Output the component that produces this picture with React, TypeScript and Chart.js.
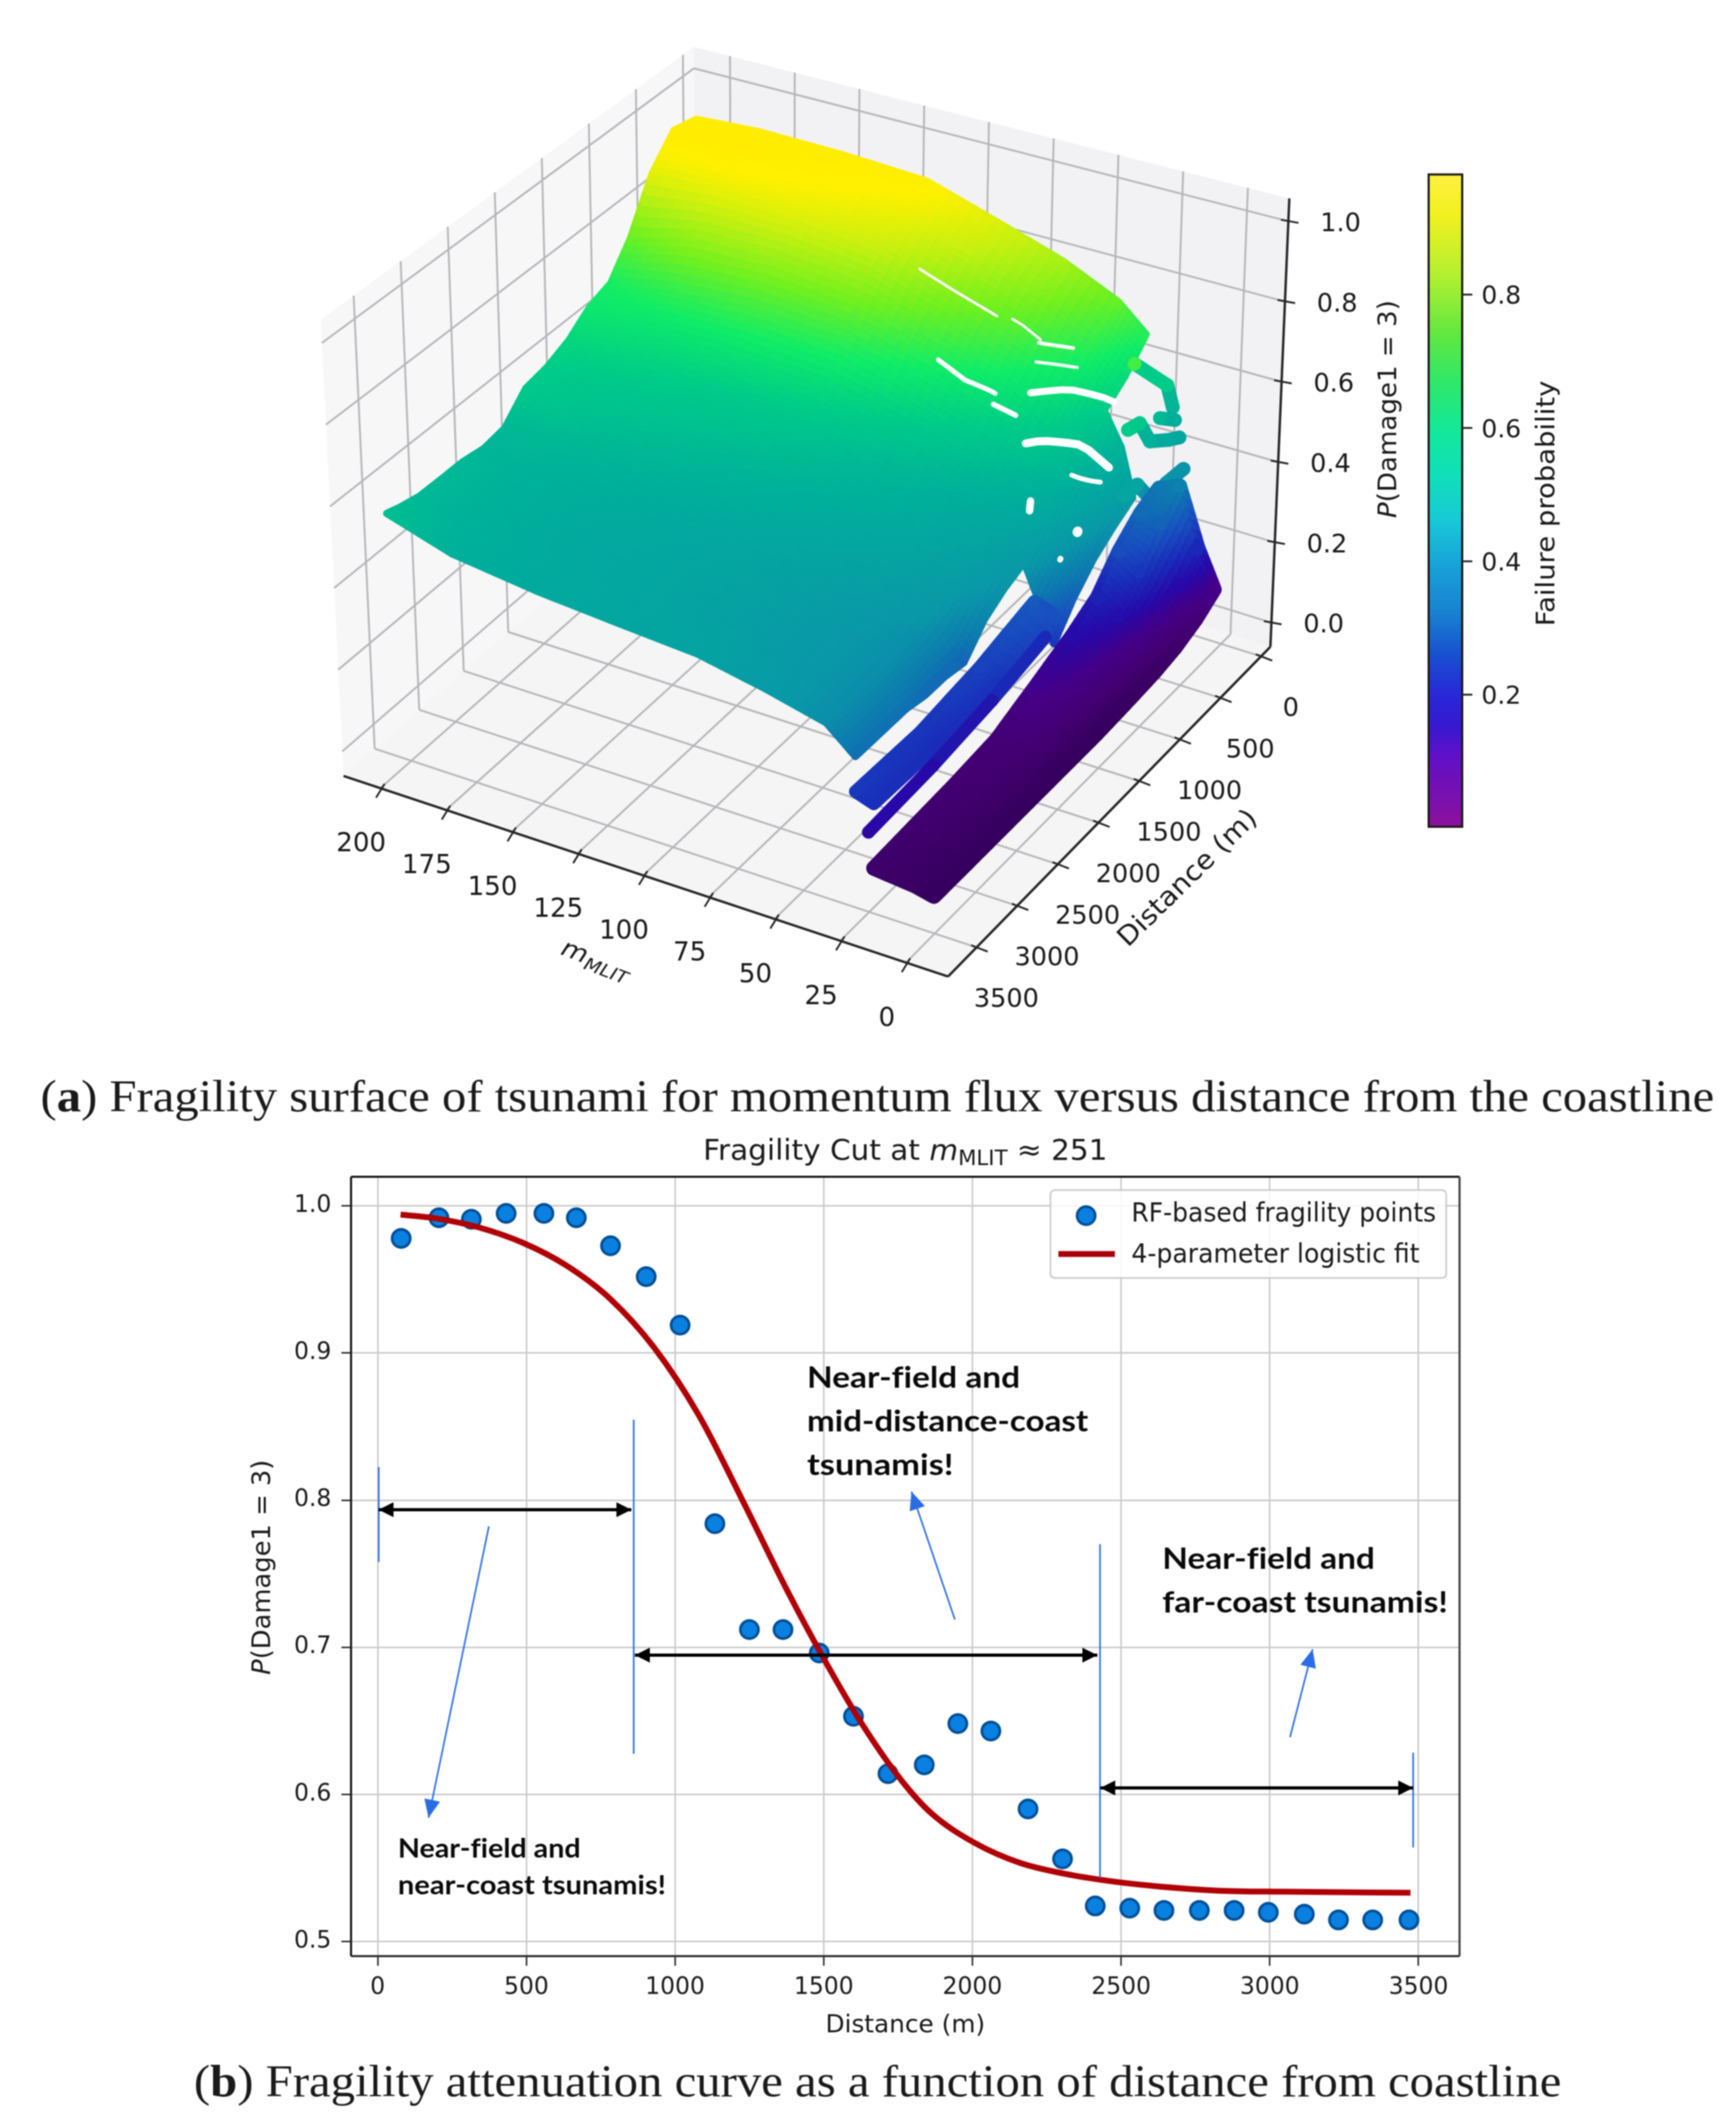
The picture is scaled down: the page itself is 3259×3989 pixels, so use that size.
import React, { useEffect, useRef } from "react";
import { Chart, registerables } from "chart.js";

Chart.register(...registerables);

const PAGE_W = 3259;
const PAGE_H = 3989;
const SANS = '"DejaVu Sans"';

// ---------- panel (b) data ----------
const rfDistance = [79, 206, 315, 432, 559, 668, 783, 903, 1017, 1134, 1250, 1363, 1485, 1600, 1716, 1838, 1951, 2062, 2187, 2303, 2413, 2529, 2644, 2763, 2880, 2995, 3116, 3231, 3346, 3468];
const rfProbability = [0.978, 0.992, 0.991, 0.995, 0.995, 0.992, 0.973, 0.952, 0.919, 0.784, 0.712, 0.712, 0.696, 0.653, 0.614, 0.62, 0.648, 0.643, 0.59, 0.556, 0.524, 0.5225, 0.521, 0.521, 0.521, 0.5197, 0.5184, 0.5145, 0.5145, 0.5145];
const fitDistance = [77, 190, 338, 486, 634, 783, 931, 1080, 1228, 1377, 1498, 1625, 1759, 1862, 2011, 2160, 2308, 2456, 2604, 2828, 3050, 3473];
const fitProbability = [0.9942, 0.9918, 0.9856, 0.9752, 0.9596, 0.9367, 0.9034, 0.8577, 0.7994, 0.7386, 0.693, 0.649, 0.61, 0.587, 0.5665, 0.5533, 0.546, 0.5411, 0.5377, 0.5344, 0.5337, 0.533];
const cutXTicks = [0, 500, 1000, 1500, 2000, 2500, 3000, 3500];
const cutYTicks = [0.5, 0.6, 0.7, 0.8, 0.9, 1.0];
const rangeMarkers = [
  [3.6, 0.8225, 0.758],
  [861, 0.8547, 0.6275],
  [2429, 0.77, 0.5431],
  [3482, 0.6283, 0.5638],
];
const rangeArrows = [
  [3, 853, 0.7935],
  [865, 2420, 0.6946],
  [2430, 3482, 0.6043],
];
const noteArrows = [
  [374, 0.7822, 171, 0.584],
  [1941, 0.7188, 1795, 0.8058],
  [3068, 0.6388, 3144, 0.6986],
];

// ---------- panel (a) data ----------
const mTicks = [0, 25, 50, 75, 100, 125, 150, 175, 200];
const dTicks = [0, 500, 1000, 1500, 2000, 2500, 3000, 3500];
const zTicks = [0, 0.2, 0.4, 0.6, 0.8, 1.0];
const colorbarTicks = [0.2, 0.4, 0.6, 0.8];

const mainM = [19, 24, 31, 42, 64, 90, 117, 150, 182, 206];
const mainD = [80, 320, 560, 800, 1020, 1250, 1480, 1720, 1950, 2190, 2420, 2650, 2880, 3120, 3350, 3480];
const mainP = [
  [null, null, 0.673, 0.735, 0.8, 0.855, 0.911, 0.922, 0.925, 0.915],
  [null, null, 0.613, 0.69, 0.765, 0.828, 0.872, 0.905, 0.925, 0.93],
  [0.38, 0.495, 0.574, 0.64, 0.716, 0.77, 0.833, 0.864, 0.87, 0.86],
  [0.35, 0.455, 0.534, 0.591, 0.657, 0.711, 0.765, 0.787, 0.781, 0.737],
  [0.317, 0.396, 0.494, 0.542, 0.598, 0.643, 0.688, 0.701, 0.686, 0.661],
  [0.267, 0.326, 0.435, 0.483, 0.529, 0.574, 0.61, 0.624, 0.628, 0.642],
  [0.2, 0.277, 0.376, 0.434, 0.48, 0.516, 0.552, 0.566, 0.59, 0.6],
  [null, null, 0.356, 0.404, 0.451, 0.487, 0.514, 0.541, 0.553, 0.576],
  [null, null, 0.326, 0.384, 0.421, 0.457, 0.484, 0.508, 0.533, 0.566],
  [null, null, 0.268, 0.364, 0.402, 0.428, 0.455, 0.479, 0.504, 0.509],
  [null, null, 0.277, 0.345, 0.382, 0.408, 0.435, 0.46, 0.485, 0.5],
  [null, null, 0.277, 0.345, 0.373, 0.408, 0.426, 0.451, 0.476, 0.509],
  [null, null, 0.287, 0.345, 0.373, 0.399, 0.426, 0.442, 0.476, 0.509],
  [null, null, 0.287, 0.345, 0.372, 0.405, 0.425, 0.447, 0.475, 0.51],
  [null, null, 0.287, 0.345, 0.38, 0.415, 0.43, 0.45, 0.477, 0.522],
  [null, null, 0.287, 0.345, 0.38, 0.415, 0.43, 0.45, 0.48, 0.532],
];
const lowM = [1, 8, 16, 24];
const lowD = [80, 300, 550, 800, 1100, 1500, 2000, 2500, 3000, 3480];
const lowP = [
  [0.09, 0.18, 0.32, 0.3],
  [0.06, 0.13, 0.27, 0.28],
  [0.04, 0.1, 0.2, 0.235],
  [0.03, 0.08, 0.14, 0.17],
  [0.025, 0.06, 0.11, 0.135],
  [0.02, 0.05, 0.085, 0.1],
  [0.02, 0.04, 0.055, 0.06],
  [0.02, 0.035, 0.045, 0.05],
  [0.02, 0.03, 0.04, 0.045],
  [0.02, 0.03, 0.035, 0.04],
];
const bandM = [24, 31];
const bandD = [1350, 2000, 2700, 3480];
const bandP = [
  [0.24, 0.255],
  [0.195, 0.22],
  [0.185, 0.2],
  [0.19, 0.205],
];
const stripLines = [
  { m: 26, d: [1364, 2000, 2700, 3480], p: [0.18, 0.15, 0.13, 0.12], w: 24 },
  { m: 16, d: [40, 242, 420, 600, 757], p: [0.355, 0.36, 0.35, 0.425, 0.425], w: 26 },
  { m: 18, d: [40, 175, 400, 530, 670], p: [0.43, 0.45, 0.49, 0.56, 0.57], w: 26 },
  { m: 20, d: [40, 222], p: [0.47, 0.51], w: 26 },
  { m: 21, d: [40, 115, 520], p: [0.5, 0.57, 0.7], w: 26 },
];
// stretches where the surface has no points: m from, D from, m to, D to, breadth
const surfaceGaps = [
  [103, 560, 73, 560, 5],
  [68, 530, 57, 530, 5],
  [57, 550, 47, 450, 7],
  [84, 900, 73, 920, 9],
  [73, 920, 62, 900, 9],
  [55, 640, 43, 520, 6],
  [52, 790, 30, 470, 13],
  [61, 950, 53, 930, 10],
  [46, 1020, 24, 700, 15],
  [30, 960, 24, 800, 9],
  [37, 1230, 36, 1270, 14],
  [24, 1060, 24, 1065, 18],
  [25, 1230, 25, 1235, 11],
];

const surfaceStopValues = [0.02, 0.05, 0.09, 0.13, 0.18, 0.24, 0.3, 0.365, 0.48, 0.575, 0.655, 0.745, 0.83, 0.895, 0.96];
const surfaceStopColors = ["#36005e", "#420070", "#450088", "#2808a8", "#1a28b8", "#1850c0", "#0e78b0", "#0a98a8", "#00b09a", "#00cc88", "#10ec68", "#70f020", "#c8f010", "#fff000", "#ffe800"];
const barStopValues = [0.002, 0.05, 0.11, 0.15, 0.2, 0.26, 0.32, 0.39, 0.46, 0.53, 0.6, 0.67, 0.74, 0.83, 0.92, 0.98];
const barStopColors = ["#8c109c", "#7810b0", "#6010c8", "#3818d0", "#2828d8", "#1850d0", "#1880d0", "#18a0d8", "#18c8d8", "#10e0b8", "#14e898", "#30e868", "#60e840", "#b4f030", "#f2f020", "#fff040"];

// ---------- 3D box: corners of the floor and of the z = 1 plane ----------
const M_MIN = -16, M_MAX = 214, D_MIN = -115, D_MAX = 3850, Z_MIN = -0.06, Z_ONE = 1.0, Z_MAX = 1.057;
const FLOOR = { c: [2391, 1209], e: [1305, 870], b: [637, 1453], a: [1781, 1832] };
const ROOF = { c: [2425, 405], e: [1300, 116], b: [596, 635], a: [1790, 955] };

function quadAt(q: any, u: number, v: number) {
  const x = (1 - u) * (1 - v) * q.c[0] + u * (1 - v) * q.e[0] + u * v * q.b[0] + (1 - u) * v * q.a[0];
  const y = (1 - u) * (1 - v) * q.c[1] + u * (1 - v) * q.e[1] + u * v * q.b[1] + (1 - u) * v * q.a[1];
  return [x, y];
}
function project(m: number, d: number, z: number) {
  const u = (m - M_MIN) / (M_MAX - M_MIN);
  const v = (d - D_MIN) / (D_MAX - D_MIN);
  const w = (z - Z_MIN) / (Z_ONE - Z_MIN);
  const f = quadAt(FLOOR, u, v);
  const r = quadAt(ROOF, u, v);
  return { x: f[0] + (r[0] - f[0]) * w, y: f[1] + (r[1] - f[1]) * w };
}

function hex(c: string) {
  return [parseInt(c.slice(1, 3), 16), parseInt(c.slice(3, 5), 16), parseInt(c.slice(5, 7), 16)];
}
function ramp(values: number[], colors: string[], p: number) {
  if (p <= values[0]) return colors[0];
  for (let i = 1; i < values.length; i++) {
    if (p <= values[i]) {
      const t = (p - values[i - 1]) / (values[i] - values[i - 1]);
      const a = hex(colors[i - 1]);
      const b = hex(colors[i]);
      return `rgb(${Math.round(a[0] + (b[0] - a[0]) * t)},${Math.round(a[1] + (b[1] - a[1]) * t)},${Math.round(a[2] + (b[2] - a[2]) * t)})`;
    }
  }
  return colors[colors.length - 1];
}
const surfaceColor = (p: number) => ramp(surfaceStopValues, surfaceStopColors, p);

function tablePoints(ms: number[], ds: number[], table: (number | null)[][]) {
  const pts: any[] = [];
  ds.forEach((d, j) =>
    ms.forEach((m, i) => {
      const p = table[j][i];
      if (p !== null) pts.push({ ...project(m, d, p), p });
    })
  );
  return pts;
}

function shadePatch(chart: any, ms: number[], ds: number[], table: (number | null)[][], spread: number) {
  const ctx = chart.ctx;
  const sx = chart.scales.x, sy = chart.scales.y;
  const N = 6;
  ctx.save();
  ctx.lineJoin = "round";
  for (let pass = 0; pass < 2; pass++) {
    ctx.lineWidth = pass === 0 ? spread * 2 : 1.5;
    for (let j = 0; j < ds.length - 1; j++) {
      for (let i = ms.length - 2; i >= 0; i--) {
        const p00 = table[j][i], p10 = table[j][i + 1], p01 = table[j + 1][i], p11 = table[j + 1][i + 1];
        if (p00 === null || p10 === null || p01 === null || p11 === null) continue;
        for (let b = 0; b < N; b++) {
          for (let a = N - 1; a >= 0; a--) {
            const corner = (s: number, t: number) => {
              const p = (1 - s) * (1 - t) * p00 + s * (1 - t) * p10 + (1 - s) * t * p01 + s * t * p11;
              const q = project(ms[i] + (ms[i + 1] - ms[i]) * s, ds[j] + (ds[j + 1] - ds[j]) * t, p);
              return { x: sx.getPixelForValue(q.x), y: sy.getPixelForValue(q.y), p };
            };
            const c = [corner(a / N, b / N), corner((a + 1) / N, b / N), corner((a + 1) / N, (b + 1) / N), corner(a / N, (b + 1) / N)];
            const col = surfaceColor((c[0].p + c[1].p + c[2].p + c[3].p) / 4);
            ctx.fillStyle = col;
            ctx.strokeStyle = col;
            ctx.beginPath();
            ctx.moveTo(c[0].x, c[0].y);
            for (let k = 1; k < 4; k++) ctx.lineTo(c[k].x, c[k].y);
            ctx.closePath();
            if (pass === 1) ctx.fill();
            ctx.stroke();
          }
        }
      }
    }
  }
  ctx.restore();
}

function sampleMain(m: number, d: number) {
  let j = 0;
  while (j < mainD.length - 2 && d > mainD[j + 1]) j++;
  let i = 0;
  while (i < mainM.length - 2 && m > mainM[i + 1]) i++;
  const t = Math.min(1, Math.max(0, (d - mainD[j]) / (mainD[j + 1] - mainD[j])));
  const s = Math.min(1, Math.max(0, (m - mainM[i]) / (mainM[i + 1] - mainM[i])));
  const vals = [[mainP[j][i], (1 - s) * (1 - t)], [mainP[j][i + 1], s * (1 - t)], [mainP[j + 1][i], (1 - s) * t], [mainP[j + 1][i + 1], s * t]] as [number | null, number][];
  let sum = 0, wt = 0;
  vals.forEach(([p, w]) => {
    if (p !== null) {
      sum += p * w;
      wt += w;
    }
  });
  return wt > 0 ? sum / wt : 0.5;
}

type Run = { t: string; italic?: boolean; bold?: boolean; scale?: number; dy?: number };
function drawRuns(ctx: any, runs: Run[], family: string, size: number, x: number, y: number, width: number | null, opts: any = {}) {
  const { rotate = 0, center = false, color = "#1a1a1a", middle = false, plainLetters = false } = opts;
  const fontOf = (r: Run) => `${r.italic ? "italic " : ""}${r.bold ? "bold " : ""}${size * (r.scale || 1)}px ${family}`;
  ctx.save();
  ctx.letterSpacing = plainLetters ? "0.02px" : "0px";
  let natural = 0;
  runs.forEach((r) => {
    ctx.font = fontOf(r);
    natural += ctx.measureText(r.t).width;
  });
  const sx = width ? width / natural : 1;
  ctx.translate(x, y);
  ctx.rotate(rotate);
  ctx.scale(sx, 1);
  ctx.fillStyle = color;
  ctx.textBaseline = middle ? "middle" : "alphabetic";
  ctx.textAlign = "left";
  let cursor = center ? -natural / 2 : 0;
  runs.forEach((r) => {
    ctx.font = fontOf(r);
    ctx.fillText(r.t, cursor, r.dy || 0);
    cursor += ctx.measureText(r.t).width;
  });
  ctx.restore();
}

function centered(ctx: any, text: string, x: number, y: number, size: number) {
  ctx.font = `${size}px ${SANS}`;
  ctx.fillStyle = "#1a1a1a";
  ctx.textAlign = "center";
  ctx.textBaseline = "middle";
  ctx.fillText(text, x, y);
}

function segment(ctx: any, a: any, b: any, color: string, width: number) {
  ctx.strokeStyle = color;
  ctx.lineWidth = width;
  ctx.beginPath();
  ctx.moveTo(a.x, a.y);
  ctx.lineTo(b.x, b.y);
  ctx.stroke();
}

const boxPlugin = {
  id: "box3d",
  beforeDatasetsDraw(chart: any) {
    const ctx = chart.ctx;
    const sx = chart.scales.x, sy = chart.scales.y;
    const at = (m: number, d: number, z: number) => {
      const q = project(m, d, z);
      return { x: sx.getPixelForValue(q.x), y: sy.getPixelForValue(q.y) };
    };
    const pane = (pts: any[], color: string) => {
      ctx.fillStyle = color;
      ctx.beginPath();
      pts.forEach((p, i) => (i ? ctx.lineTo(p.x, p.y) : ctx.moveTo(p.x, p.y)));
      ctx.closePath();
      ctx.fill();
    };
    pane([at(M_MAX, D_MAX, Z_MIN), at(M_MAX, D_MIN, Z_MIN), at(M_MAX, D_MIN, Z_MAX), at(M_MAX, D_MAX, Z_MAX)], "#f7f7f8");
    pane([at(M_MAX, D_MIN, Z_MIN), at(M_MIN, D_MIN, Z_MIN), at(M_MIN, D_MIN, Z_MAX), at(M_MAX, D_MIN, Z_MAX)], "#f2f2f4");
    pane([at(M_MIN, D_MAX, Z_MIN), at(M_MAX, D_MAX, Z_MIN), at(M_MAX, D_MIN, Z_MIN), at(M_MIN, D_MIN, Z_MIN)], "#f5f5f5");
    const GRID = "#b6b6ba";
    ctx.lineCap = "butt";
    mTicks.forEach((m) => {
      segment(ctx, at(m, D_MAX, Z_MIN), at(m, D_MIN, Z_MIN), GRID, 3.5);
      segment(ctx, at(m, D_MIN, Z_MIN), at(m, D_MIN, Z_MAX), GRID, 3.5);
    });
    dTicks.forEach((d) => {
      segment(ctx, at(M_MIN, d, Z_MIN), at(M_MAX, d, Z_MIN), GRID, 3.5);
      segment(ctx, at(M_MAX, d, Z_MIN), at(M_MAX, d, Z_MAX), GRID, 3.5);
    });
    zTicks.forEach((z) => {
      segment(ctx, at(M_MAX, D_MAX, z), at(M_MAX, D_MIN, z), GRID, 3.5);
      segment(ctx, at(M_MAX, D_MIN, z), at(M_MIN, D_MIN, z), GRID, 3.5);
    });
    const AX = "#262626";
    segment(ctx, at(M_MIN, D_MAX, Z_MIN), at(M_MAX, D_MAX, Z_MIN), AX, 4.5);
    segment(ctx, at(M_MIN, D_MAX, Z_MIN), at(M_MIN, D_MIN, Z_MIN), AX, 4.5);
    segment(ctx, at(M_MIN, D_MIN, Z_MIN), at(M_MIN, D_MIN, Z_MAX), AX, 4.5);
  },
  beforeDatasetDraw(chart: any, args: any) {
    const patch = chart.data.datasets[args.index].patch;
    if (patch) shadePatch(chart, patch.ms, patch.ds, patch.table, patch.spread);
  },
  afterDatasetDraw(chart: any, args: any) {
    if (!chart.data.datasets[args.index].isMain) return;
    const ctx = chart.ctx;
    const sx = chart.scales.x, sy = chart.scales.y;
    ctx.save();
    ctx.strokeStyle = "#ffffff";
    ctx.lineCap = "round";
    ctx.lineJoin = "round";
    surfaceGaps.forEach(([m1, d1, m2, d2, w]) => {
      ctx.lineWidth = w;
      ctx.beginPath();
      for (let k = 0; k <= 8; k++) {
        const m = m1 + ((m2 - m1) * k) / 8;
        const d = d1 + ((d2 - d1) * k) / 8;
        const q = project(m, d, sampleMain(m, d));
        const px = sx.getPixelForValue(q.x), py = sy.getPixelForValue(q.y);
        if (k) ctx.lineTo(px, py);
        else ctx.moveTo(px, py);
      }
      ctx.stroke();
    });
    ctx.restore();
  },
  afterDraw(chart: any) {
    const ctx = chart.ctx;
    const sx = chart.scales.x, sy = chart.scales.y;
    const at = (m: number, d: number, z: number) => {
      const q = project(m, d, z);
      return { x: sx.getPixelForValue(q.x), y: sy.getPixelForValue(q.y) };
    };
    const AX = "#262626";
    ctx.lineCap = "butt";
    mTicks.forEach((m) => {
      const p = at(m, D_MAX, Z_MIN);
      segment(ctx, { x: p.x + 8, y: p.y - 8 }, { x: p.x - 8, y: p.y + 18 }, AX, 3.5);
      centered(ctx, String(m), p.x - 36, p.y + 106, 49);
    });
    dTicks.forEach((d) => {
      const p = at(M_MIN, d, Z_MIN);
      segment(ctx, { x: p.x - 10, y: p.y - 4 }, { x: p.x + 21, y: p.y + 8 }, AX, 3.5);
      centered(ctx, String(d), p.x + 56, p.y + 99, 48);
    });
    zTicks.forEach((z) => {
      const p = at(M_MIN, D_MIN, z);
      segment(ctx, { x: p.x - 14, y: p.y - 3 }, { x: p.x + 19, y: p.y + 3 }, AX, 3.5);
      centered(ctx, z.toFixed(1), p.x + 98, p.y + 6, 48);
    });
    drawRuns(ctx, [{ t: "m", italic: true }, { t: "MLIT", italic: true, scale: 0.72, dy: 10 }], SANS, 46, 1114, 1815, 136, { rotate: (21 * Math.PI) / 180, center: true });
    drawRuns(ctx, [{ t: "Distance (m)" }], SANS, 50, 2231, 1650, 344, { rotate: (-44.4 * Math.PI) / 180, center: true, middle: true });
    drawRuns(ctx, [{ t: "P", italic: true }, { t: "(Damage1 = 3)" }], SANS, 48, 2609, 768, 409, { rotate: -Math.PI / 2, center: true, middle: true });

    // colour bar
    const L = 2682, R = 2745, T = 327.5, B = 1552;
    const yOf = (p: number) => 553 + ((0.8 - p) * (1304 - 553)) / 0.6;
    const grad = ctx.createLinearGradient(0, B, 0, T);
    barStopValues.forEach((v, i) => grad.addColorStop((yOf(0.002) - yOf(v)) / (yOf(0.002) - yOf(0.98)), barStopColors[i]));
    ctx.fillStyle = grad;
    ctx.fillRect(L, T, R - L, B - T);
    ctx.strokeStyle = "#1a1a1a";
    ctx.lineWidth = 4;
    ctx.strokeRect(L, T, R - L, B - T);
    colorbarTicks.forEach((v) => {
      segment(ctx, { x: R, y: yOf(v) }, { x: R + 19, y: yOf(v) }, AX, 3.5);
      ctx.font = `47px ${SANS}`;
      ctx.fillStyle = "#1a1a1a";
      ctx.textAlign = "left";
      ctx.textBaseline = "middle";
      ctx.fillText(v.toFixed(1), 2781, yOf(v) + 5);
    });
    drawRuns(ctx, [{ t: "Failure probability" }], SANS, 48, 2906, 945, 461, { rotate: -Math.PI / 2, center: true, middle: true });

    drawRuns(ctx, [{ t: "(" }, { t: "a", bold: true }, { t: ") Fragility surface of tsunami for momentum flux versus distance from the coastline" }], '"Liberation Serif"', 84, 76, 2086, 3142);
  },
};

function arrowHead(ctx: any, from: any, to: any, len: number, half: number, color: string) {
  const a = Math.atan2(to.y - from.y, to.x - from.x);
  ctx.fillStyle = color;
  ctx.beginPath();
  ctx.moveTo(to.x, to.y);
  ctx.lineTo(to.x - len * Math.cos(a) - half * Math.sin(a), to.y - len * Math.sin(a) + half * Math.cos(a));
  ctx.lineTo(to.x - len * Math.cos(a) + half * Math.sin(a), to.y - len * Math.sin(a) - half * Math.cos(a));
  ctx.closePath();
  ctx.fill();
}

const cutPlugin = {
  id: "cutNotes",
  afterDatasetsDraw(chart: any) {
    const ctx = chart.ctx;
    const x = chart.scales.x, y = chart.scales.y;
    const at = (d: number, p: number) => ({ x: x.getPixelForValue(d), y: y.getPixelForValue(p) });
    const BLUE = "#2a6ce6";
    rangeMarkers.forEach(([d, p1, p2]) => segment(ctx, at(d, p1), at(d, p2), BLUE, 3));
    rangeArrows.forEach(([d1, d2, p]) => {
      const a = at(d1, p), b = at(d2, p);
      segment(ctx, a, b, "#000000", 6);
      arrowHead(ctx, b, a, 28, 14, "#000000");
      arrowHead(ctx, a, b, 28, 14, "#000000");
    });
    noteArrows.forEach(([d1, p1, d2, p2]) => {
      const a = at(d1, p1), b = at(d2, p2);
      segment(ctx, a, b, BLUE, 3);
      arrowHead(ctx, a, b, 34, 15, BLUE);
    });
    const note = (t: string, px: number, py: number, w: number, size: number) =>
      drawRuns(ctx, [{ t, bold: true }], "Lato", size, px, py, w, { color: "#0a0a0a", plainLetters: true });
    note("Near-field and", 1515, 2605, 400, 56);
    note("mid-distance-coast", 1515, 2687, 528, 56);
    note("tsunamis!", 1515, 2769, 275, 56);
    note("Near-field and", 2182, 2945, 399, 56);
    note("far-coast tsunamis!", 2182, 3027, 536, 56);
    note("Near-field and", 747, 3487, 343, 49);
    note("near-coast tsunamis!", 747, 3556, 503, 49);

    // frame
    const { left, right, top, bottom } = chart.chartArea;
    segment(ctx, { x: left, y: top }, { x: right, y: top }, "#1a1a1a", 4);
    segment(ctx, { x: right, y: top }, { x: right, y: bottom }, "#444444", 4);
    segment(ctx, { x: left, y: bottom }, { x: right, y: bottom }, "#333333", 4);
    segment(ctx, { x: left, y: top }, { x: left, y: bottom }, "#1a1a1a", 4);

    // legend
    ctx.save();
    ctx.beginPath();
    ctx.roundRect(1972, 2234, 743, 165, 8);
    ctx.fillStyle = "rgba(255,255,255,0.85)";
    ctx.fill();
    ctx.strokeStyle = "#c9c9c9";
    ctx.lineWidth = 3;
    ctx.stroke();
    ctx.restore();
    ctx.beginPath();
    ctx.arc(2039, 2282, 17, 0, Math.PI * 2);
    ctx.fillStyle = "#0a80e0";
    ctx.fill();
    ctx.lineWidth = 5;
    ctx.strokeStyle = "#004f96";
    ctx.stroke();
    segment(ctx, { x: 1987, y: 2354 }, { x: 2093, y: 2354 }, "#a80008", 11);
    drawRuns(ctx, [{ t: chart.data.datasets[1].label }], SANS, 50, 2124, 2293, 572);
    drawRuns(ctx, [{ t: chart.data.datasets[0].label }], SANS, 50, 2124, 2370, 541);

    // title and titles
    drawRuns(ctx, [{ t: "Fragility Cut at " }, { t: "m", italic: true }, { t: "MLIT", scale: 0.72, dy: 10 }, { t: " ≈ 251" }], SANS, 54, 1320, 2177, 759);
    drawRuns(ctx, [{ t: "P", italic: true }, { t: "(Damage1 = 3)" }], SANS, 48, 495, 2942, 404, { rotate: -Math.PI / 2, center: true, middle: true });
    drawRuns(ctx, [{ t: "(" }, { t: "b", bold: true }, { t: ") Fragility attenuation curve as a function of distance from coastline" }], '"Liberation Serif"', 84, 364, 3935, 2567);
  },
};

export default function App() {
  const surfaceRef = useRef<HTMLCanvasElement>(null);
  const cutRef = useRef<HTMLCanvasElement>(null);

  useEffect(() => {
    const pointColor = (c: any) => (c.raw ? surfaceColor(c.raw.p) : "#000");
    const lineSets = stripLines.map((s) => ({
      data: s.d.map((d, i) => ({ ...project(s.m, d, s.p[i]), p: s.p[i] })),
      showLine: true,
      borderWidth: s.w,
      borderCapStyle: "round",
      borderJoinStyle: "round",
      segment: { borderColor: (c: any) => surfaceColor(c.p0.raw.p) },
      pointRadius: s.w / 2,
      pointBackgroundColor: pointColor,
      pointBorderWidth: 0,
    }));
    const patchSet = (ms: number[], ds: number[], t: any[][], spread: number, extra: any = {}) => ({
      data: tablePoints(ms, ds, t),
      patch: { ms, ds, table: t, spread },
      pointRadius: spread - 1,
      pointBackgroundColor: pointColor,
      pointBorderWidth: 0,
      ...extra,
    });
    const surface = new Chart(surfaceRef.current as any, {
      type: "scatter",
      data: {
        datasets: [
          patchSet(lowM, lowD, lowP, 14),
          lineSets[0],
          patchSet(bandM, bandD, bandP, 12),
          lineSets[1],
          lineSets[2],
          lineSets[3],
          lineSets[4],
          patchSet(mainM, mainD, mainP, 7, { isMain: true }),
        ] as any,
      },
      options: {
        animation: false,
        responsive: false,
        events: [],
        layout: { padding: 0 },
        plugins: { legend: { display: false }, tooltip: { enabled: false } },
        scales: {
          x: { type: "linear", display: false, min: 0, max: PAGE_W },
          y: { type: "linear", display: false, min: 0, max: PAGE_H, reverse: true },
        },
      },
      plugins: [boxPlugin],
    } as any);

    const tickFont = { family: SANS, size: 44 };
    const cut = new Chart(cutRef.current as any, {
      type: "scatter",
      data: {
        datasets: [
          {
            label: "4-parameter logistic fit",
            data: fitDistance.map((x, i) => ({ x, y: fitProbability[i] })),
            showLine: true,
            borderColor: "#b00006",
            borderWidth: 11,
            cubicInterpolationMode: "monotone",
            pointRadius: 0,
          },
          {
            label: "RF-based fragility points",
            data: rfDistance.map((x, i) => ({ x, y: rfProbability[i] })),
            pointRadius: 17,
            pointBackgroundColor: "#0a80e0",
            pointBorderColor: "#004f96",
            pointBorderWidth: 5,
          },
        ] as any,
      },
      options: {
        animation: false,
        responsive: false,
        events: [],
        layout: { padding: { left: 0, right: PAGE_W - 2740, top: 2209, bottom: 154 } },
        plugins: { legend: { display: false }, tooltip: { enabled: false } },
        scales: {
          x: {
            type: "linear",
            min: -89.6,
            max: 3638,
            afterBuildTicks: (s: any) => { s.ticks = cutXTicks.map((value) => ({ value })); },
            afterFit: (s: any) => { s.height = 163; },
            ticks: { font: tickFont, color: "#1a1a1a", padding: 15, maxRotation: 0, autoSkip: false, callback: (v: any) => String(v) },
            grid: { color: "#cbcbcb", lineWidth: 3, tickLength: 18, tickColor: "#333333", tickWidth: 3 },
            border: { display: false },
            title: { display: true, text: "Distance (m)", font: { family: SANS, size: 46.5 }, color: "#1a1a1a", padding: { top: 4, bottom: 4 } },
          },
          y: {
            type: "linear",
            min: 0.4899,
            max: 1.0199,
            afterBuildTicks: (s: any) => { s.ticks = cutYTicks.map((value) => ({ value })); },
            afterFit: (s: any) => { s.width = 659; },
            ticks: { font: tickFont, color: "#1a1a1a", padding: 19, autoSkip: false, callback: (v: any) => Number(v).toFixed(1) },
            grid: { color: "#cbcbcb", lineWidth: 3, tickLength: 18, tickColor: "#333333", tickWidth: 3 },
            border: { display: false },
          },
        },
      },
      plugins: [cutPlugin],
    } as any);

    return () => {
      surface.destroy();
      cut.destroy();
    };
  }, []);

  const style: React.CSSProperties = { position: "absolute", left: 0, top: 0, width: PAGE_W, height: PAGE_H, filter: "blur(1.2px)" };
  return (
    <div style={{ position: "absolute", left: 0, top: 0, width: PAGE_W, height: PAGE_H, background: "#fff", overflow: "hidden" }}>
      <canvas ref={surfaceRef} width={PAGE_W} height={PAGE_H} style={style} />
      <canvas ref={cutRef} width={PAGE_W} height={PAGE_H} style={style} />
    </div>
  );
}
